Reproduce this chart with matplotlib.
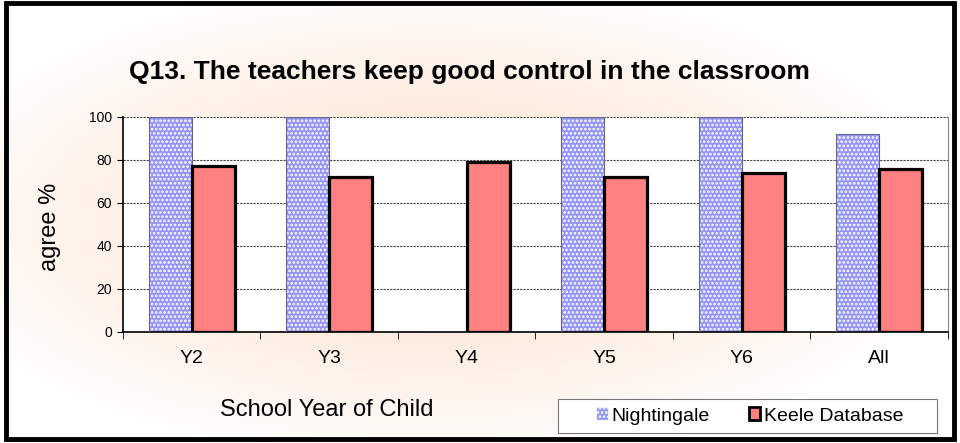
import numpy as np
import matplotlib
matplotlib.use('Agg')
import matplotlib.pyplot as plt
from matplotlib.patches import Patch, Rectangle

plt.rcParams['font.family'] = ['Liberation Sans', 'DejaVu Sans']
plt.rcParams['hatch.linewidth'] = 1.3

# data
years = ['Y2', 'Y3', 'Y4', 'Y5', 'Y6', 'All']
nightingale = [100, 100, 0, 100, 100, 92]
keele = [77, 72, 79, 72, 74, 76]

blue = '#9494f7'
red = '#ff8080'

fig = plt.figure(figsize=(9.6, 4.43), dpi=100)

# peach glow background
bg = fig.add_axes([0, 0, 1, 1], zorder=-10)
yy, xx = np.mgrid[0:1:300j, 0:1:600j]
r = np.sqrt(((xx - 0.45) / 0.55) ** 2 + ((yy - 0.5) / 0.55) ** 2)
t = np.clip(1 - r, 0, 1) ** 0.9
c0 = np.array([1.0, 1.0, 1.0])
c1 = np.array([0.99, 0.87, 0.78])
img = c0 + (c1 - c0) * t[..., None]
bg.imshow(img, extent=[0, 1, 0, 1], aspect='auto', origin='lower')
bg.axis('off')

ax = fig.add_axes([0.128, 0.2506, 0.8595, 0.4853])
x = np.arange(len(years))
w = 0.3125

ax.bar(x - w / 2, nightingale, w, color=blue, edgecolor='white', hatch='....',
       linewidth=0, zorder=2)
ax.bar(x - w / 2, nightingale, w, fill=False, edgecolor='#666688',
       linewidth=0.8, zorder=3)
ax.bar(x + w / 2, keele, w, color=red, edgecolor='black', linewidth=2.3,
       zorder=3)

ax.set_xlim(-0.5, len(years) - 0.5)
ax.set_ylim(0, 100)
ax.set_yticks([0, 20, 40, 60, 80, 100])
ax.yaxis.grid(True, linestyle=(0, (2, 1)), color='#444444', linewidth=0.8)
ax.set_axisbelow(True)

ax.set_xticks(x)
ax.set_xticklabels(years, fontsize=14)
ax.set_xticks(np.arange(len(years) + 1) - 0.5, minor=True)
ax.tick_params(axis='x', which='major', length=0, pad=13)
ax.tick_params(axis='x', which='minor', length=5, direction='out')
ax.tick_params(axis='y', length=4, labelsize=10, pad=4)

ax.spines['top'].set_visible(False)
ax.spines['right'].set_color('#888888')
ax.spines['right'].set_linewidth(0.8)
ax.spines['left'].set_linewidth(1.2)
ax.spines['bottom'].set_linewidth(1.2)

fig.text(0.489, 0.837, 'Q13. The teachers keep good control in the classroom',
         fontsize=19, fontweight='bold', ha='center', va='center')
fig.text(0.052, 0.487, 'agree %', fontsize=17, rotation=90,
         ha='center', va='center')
fig.text(0.34, 0.074, 'School Year of Child', fontsize=17,
         ha='center', va='center')

# legend box
fig.patches.append(Rectangle((558 / 960, 1 - 433 / 443), 379 / 960, 34 / 443,
                             transform=fig.transFigure, facecolor='white',
                             edgecolor='#777777', linewidth=0.8, zorder=1))
handles = [Patch(facecolor=blue, edgecolor='white', hatch='....', linewidth=0.5),
           Patch(facecolor=red, edgecolor='black', linewidth=2)]
leg = fig.legend(handles, ['Nightingale', 'Keele Database'], ncol=2,
                 loc='center', bbox_to_anchor=(750 / 960, 1 - 416 / 443),
                 frameon=False, fontsize=14, handlelength=0.6,
                 handleheight=0.6, handletextpad=0.2, columnspacing=2.0)

# outer frame
fig.patches.append(Rectangle((0.006, 0.008), 0.988, 0.985,
                             transform=fig.transFigure, fill=False,
                             edgecolor='black', linewidth=3.5, zorder=5))

fig.savefig('out.png', dpi=100)
